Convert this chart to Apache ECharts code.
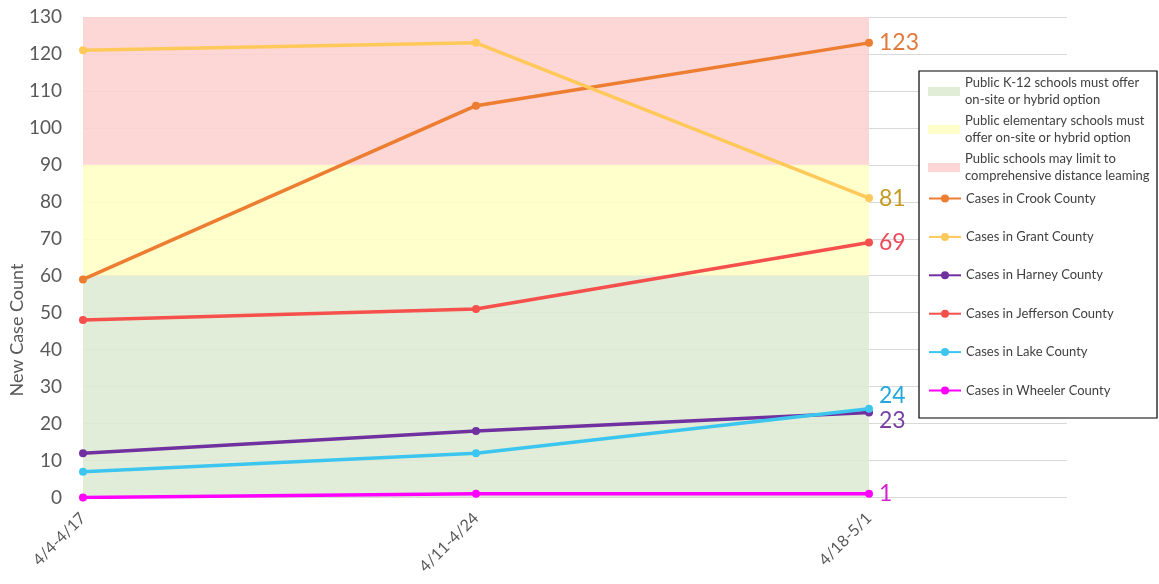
<!DOCTYPE html>
<html>
<head>
<meta charset="utf-8">
<script src="https://cdn.jsdelivr.net/npm/echarts@6/dist/echarts.min.js"></script>
<style>
html,body{margin:0;padding:0;background:#fff;}
#chart{width:1159px;height:584px;}
</style>
</head>
<body>
<div id="chart"></div>
<script>
// ---- data ----
var categories = ['4/4-4/17', '4/11-4/24', '4/18-5/1'];
var crook     = [59, 106, 123];
var grant     = [121, 123, 81];
var harney    = [12, 18, 23];
var jefferson = [48, 51, 69];
var lake      = [7, 12, 24];
var wheeler   = [0, 1, 1];
var bandNames = [
  'Public K-12 schools must offer on-site or hybrid option',
  'Public elementary schools must offer on-site or hybrid option',
  'Public schools may limit to comprehensive distance learning'
];
var bandLabels = [
  'Public K-12 schools must offer\non-site or hybrid option',
  'Public elementary schools must\noffer on-site or hybrid option',
  'Public schools may limit to\ncomprehensive distance leaming'
];
var bandBounds = [0, 60, 90, 130];
var yMin = 0, yMax = 130, yStep = 10;

var FONT = 'Lato, "Open Sans", sans-serif';
var bandFill = ['rgba(221,234,210,0.85)', 'rgba(255,255,195,0.85)', 'rgba(253,207,207,0.85)'];
var bandSolid = ['#E2EDD8', '#FFFFCC', '#FDD6D6'];

var lineDefs = [
  {name: 'Cases in Crook County', data: crook, color: '#ED7D31', label: '#E07A3C', off: [0, 0]},
  {name: 'Cases in Grant County', data: grant, color: '#FFC95A', label: '#C49A22', off: [0, 0]},
  {name: 'Cases in Harney County', data: harney, color: '#7030A0', label: '#7A3FA5', off: [0, 8]},
  {name: 'Cases in Jefferson County', data: jefferson, color: '#F5504C', label: '#EE4B5A', off: [0, 0]},
  {name: 'Cases in Lake County', data: lake, color: '#3CC6EF', label: '#22A8DC', off: [0, -13]},
  {name: 'Cases in Wheeler County', data: wheeler, color: '#FF00FF', label: '#D41FD4', off: [0, 0]}
];

var series = [];
bandNames.forEach(function (n, i) {
  series.push({
    name: n, type: 'line', xAxisIndex: 0, yAxisIndex: 0, data: [],
    itemStyle: {color: bandSolid[i]},
    silent: true,
    markArea: {
      silent: true,
      itemStyle: {color: bandFill[i]},
      data: [[{xAxis: categories[0], yAxis: bandBounds[i]}, {xAxis: categories[categories.length - 1], yAxis: bandBounds[i + 1]}]]
    }
  });
});
lineDefs.forEach(function (d) {
  series.push({
    name: d.name, type: 'line', xAxisIndex: 0, yAxisIndex: 0,
    data: d.data,
    symbol: 'circle', symbolSize: 8,
    lineStyle: {width: 3.5, color: d.color},
    itemStyle: {color: d.color},
    z: 5,
    endLabel: {
      show: true, formatter: '{c}', color: d.label,
      fontSize: 23, fontFamily: FONT, distance: 10, offset: d.off
    }
  });
});

var chart = echarts.init(document.getElementById('chart'));
chart.setOption({
  animation: false,
  backgroundColor: '#fff',
  grid: [
    {left: 83, right: 290, top: 17, bottom: 86.5},
    {left: 83, right: 92, top: 17, bottom: 86.5}
  ],
  xAxis: [
    {
      type: 'category', gridIndex: 0, data: categories, boundaryGap: false,
      axisLine: {show: false}, axisTick: {show: false},
      axisLabel: {rotate: 45, color: '#595959', fontSize: 16, fontFamily: FONT, margin: 18}
    },
    {type: 'value', gridIndex: 1, min: 0, max: 1, show: false}
  ],
  yAxis: [
    {
      type: 'value', gridIndex: 0, min: yMin, max: yMax, interval: yStep,
      axisLine: {show: false}, axisTick: {show: false}, splitLine: {show: false},
      axisLabel: {color: '#595959', fontSize: 19, fontFamily: FONT, margin: 21}
    },
    {
      type: 'value', gridIndex: 1, min: yMin, max: yMax, interval: yStep,
      axisLine: {show: false}, axisTick: {show: false}, axisLabel: {show: false},
      splitLine: {show: true, lineStyle: {color: '#D9D9D9', width: 1}}
    }
  ],
  legend: [
    {
      orient: 'vertical', left: 923, top: 69, itemWidth: 32, itemHeight: 9, itemGap: 3,
      selectedMode: false,
      data: bandNames.map(function (n, i) { return {name: n, icon: 'rect', itemStyle: {color: bandSolid[i]}}; }),
      formatter: function (n) { return bandLabels[bandNames.indexOf(n)]; },
      textStyle: {color: '#404040', fontSize: 13, lineHeight: 17.5, fontFamily: FONT}
    },
    {
      orient: 'vertical', left: 923, top: 187, itemWidth: 32, itemHeight: 10, itemGap: 25.4,
      selectedMode: false,
      data: lineDefs.map(function (d) { return d.name; }),
      textStyle: {color: '#404040', fontSize: 13, fontFamily: FONT}
    }
  ],
  graphic: [
    {
      type: 'rect', z: 3,
      shape: {x: 919, y: 71, width: 238, height: 347},
      style: {fill: '#fff', stroke: '#000', lineWidth: 1.2}
    },
    {
      type: 'text', x: 17, y: 330, rotation: Math.PI / 2,
      style: {text: 'New Case Count', fill: '#595959', fontSize: 18, fontFamily: FONT,
        textAlign: 'center', textVerticalAlign: 'middle'}
    }
  ],
  series: series
});
</script>
</body>
</html>
